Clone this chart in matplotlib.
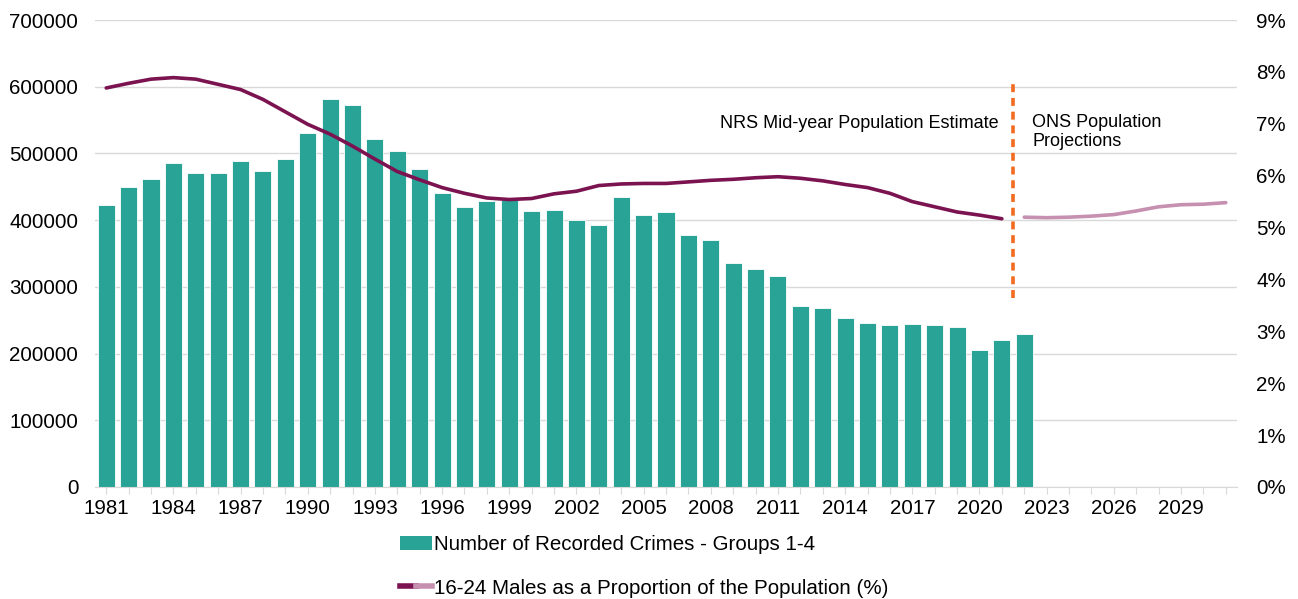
import matplotlib.pyplot as plt
from matplotlib.lines import Line2D
from matplotlib.patches import Patch
from matplotlib.legend_handler import HandlerTuple
from matplotlib.ticker import FuncFormatter

plt.rcParams['font.family'] = ['Liberation Sans', 'DejaVu Sans']

# Years on the category axis
years = list(range(1981, 2032))

# Recorded crimes, groups 1-4 (1981-2022)
crime_years = list(range(1981, 2023))
crimes = [423000, 449000, 461000, 485000, 470000, 470000, 488000, 473000, 491000, 531000,
          582000, 573000, 521000, 504000, 476000, 440000, 419000, 428000, 430000, 414000,
          415000, 400000, 393000, 434000, 408000, 412000, 377000, 370000, 336000, 327000,
          316000, 272000, 268000, 254000, 246000, 243000, 244000, 243000, 240000, 206000,
          221000, 229000]

# 16-24 males as % of population: NRS estimates (1981-2021)
est_years = list(range(1981, 2022))
est_pct = [7.69, 7.78, 7.86, 7.89, 7.86, 7.76, 7.66, 7.47, 7.23, 6.99,
           6.80, 6.57, 6.32, 6.08, 5.92, 5.77, 5.66, 5.57, 5.54, 5.56,
           5.65, 5.70, 5.81, 5.84, 5.85, 5.85, 5.88, 5.91, 5.93, 5.96,
           5.98, 5.95, 5.90, 5.83, 5.77, 5.66, 5.50, 5.40, 5.30, 5.24,
           5.17]

# ONS projections (2022-2031)
proj_years = list(range(2022, 2032))
proj_pct = [5.20, 5.19, 5.20, 5.22, 5.25, 5.32, 5.40, 5.44, 5.45, 5.48]

teal = '#29A396'
dark = '#7B1350'
light = '#C690B1'
orange = '#F26B21'
grid = '#D9D9D9'
fs = 14.8

fig = plt.figure(figsize=(12.98, 5.99), dpi=100)
ax = fig.add_axes([0.0732, 0.187, 0.8798, 0.7796])
ax2 = ax.twinx()

pos = {y: i for i, y in enumerate(years)}

ax.bar([pos[y] for y in crime_years], crimes, width=0.76, color=teal,
       edgecolor='white', linewidth=0.6, zorder=2)
ax.set_ylim(0, 700000)
ax.set_yticks(range(0, 700001, 100000))
ax.yaxis.grid(True, color=grid, linewidth=1, zorder=0)
ax.set_axisbelow(True)
ax.set_xlim(-0.5, len(years) - 0.5)
ax.set_xticks(range(len(years)))
ax.set_xticklabels([str(y) if (y - 1981) % 3 == 0 else '' for y in years])

ax2.plot([pos[y] for y in est_years], est_pct, color=dark, lw=2.6,
         solid_capstyle='round', zorder=3)
ax2.plot([pos[y] for y in proj_years], proj_pct, color=light, lw=2.6,
         solid_capstyle='round', zorder=3)
ax2.set_ylim(0, 9)
ax2.set_yticks(range(0, 10))
ax2.yaxis.set_major_formatter(FuncFormatter(lambda v, p: f'{int(v)}%'))

# Divider between estimates and projections
ax2.axvline(pos[2021] + 0.5, ymin=0.405, ymax=0.862, color=orange, lw=2.6,
            linestyle=(0, (2.2, 1.6)), zorder=4)
ax2.text(pos[2021] - 0.15, 7.0, 'NRS Mid-year Population Estimate', ha='right',
         va='center', fontsize=13)
ax2.text(pos[2022] + 0.35, 6.84, 'ONS Population\nProjections', ha='left',
         va='center', fontsize=13, linespacing=1.1)

for a in (ax, ax2):
    for s in a.spines.values():
        s.set_visible(False)
    a.tick_params(axis='y', length=0, labelsize=fs)
ax.spines['bottom'].set_visible(True)
ax.spines['bottom'].set_color(grid)
ax.tick_params(axis='y', pad=12)
ax2.tick_params(axis='y', pad=14)
ax.tick_params(axis='x', length=5, color=grid, labelsize=fs, pad=4)

handles = [Patch(facecolor=teal),
           (Line2D([], [], color=dark, lw=4), Line2D([], [], color=light, lw=4))]
labels = ['Number of Recorded Crimes - Groups 1-4',
          '16-24 Males as a Proportion of the Population (%)']
leg = fig.legend(handles, labels, loc='upper left', frameon=False, fontsize=fs,
                 handlelength=1.55, handletextpad=0.12, labelspacing=1.2,
                 borderpad=0, borderaxespad=0,
                 handler_map={tuple: HandlerTuple(ndivide=None, pad=0)})
leg.set_bbox_to_anchor((400 / 1298, 1 - 535 / 599), transform=fig.transFigure)

fig.savefig('out.png', dpi=100)
